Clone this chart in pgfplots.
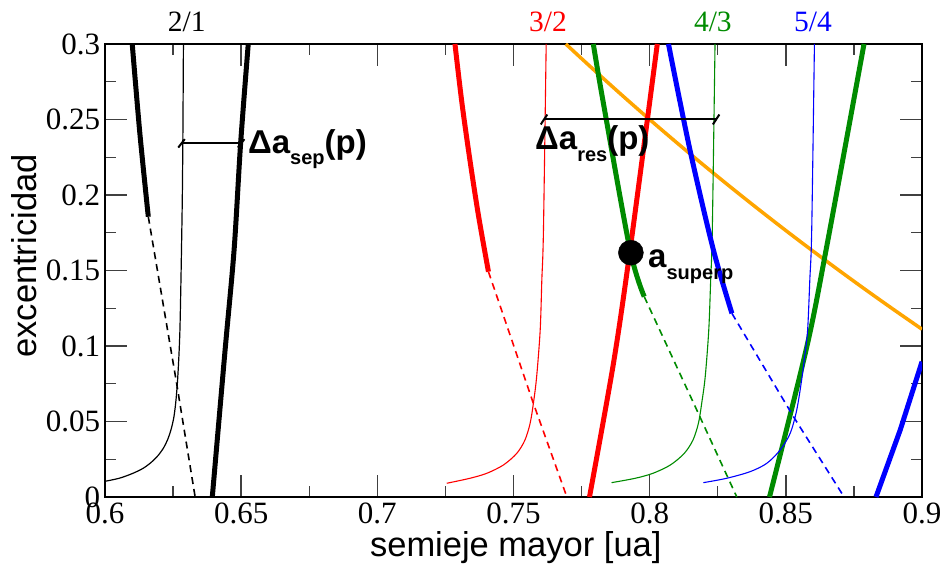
\documentclass[border=0pt]{standalone}
\usepackage{fontspec}
\setmainfont{Liberation Serif}
\setsansfont{Liberation Sans}
\usepackage{pgfplots}
\pgfplotsset{compat=1.18}
\definecolor{myred}{RGB}{255,0,0}
\definecolor{mygreen}{RGB}{0,139,0}
\definecolor{myblue}{RGB}{0,0,255}
\definecolor{myorange}{RGB}{255,165,0}
\newcommand{\subt}[1]{\raisebox{-0.36em}{\fontsize{20}{20}\selectfont\sffamily\bfseries #1}}
\begin{document}
\begin{tikzpicture}
\begin{axis}[
  width=817pt, height=453pt, scale only axis,
  xmin=0.6, xmax=0.9, ymin=0, ymax=0.3,
  xtick={0.6,0.65,0.7,0.75,0.8,0.85,0.9},
  ytick={0,0.05,0.1,0.15,0.2,0.25,0.3},
  minor x tick num=1, minor y tick num=1,
  scaled ticks=false,
  major tick length=22pt, minor tick length=11pt,
  every tick/.style={line width=1.4pt, color=black!75},
  axis line style={line width=1.6pt},
  tick label style={font=\rmfamily\fontsize{31}{32}\selectfont},
  /pgf/number format/assume math mode=true,
  /pgf/number format/fixed, /pgf/number format/precision=2,
  xticklabel style={yshift=-2.7pt},
  yticklabel style={xshift=-1.4pt},
  clip mode=individual,
]
% orange
\addplot[myorange, line width=3.5pt, smooth] coordinates {(0.7692,0.3000)(0.78,0.28205)(0.79,0.26582)(0.80,0.25)(0.81,0.23457)(0.82,0.21951)(0.83,0.20482)(0.84,0.19048)(0.85,0.17647)(0.86,0.16279)(0.87,0.14943)(0.88,0.13636)(0.89,0.12360)(0.90,0.11111)};
% 2/1 black
\addplot[black, line width=1.2pt, smooth] coordinates {(0.6000,0.0104)(0.6052,0.0124)(0.6100,0.0155)(0.6140,0.0190)(0.6170,0.0230)(0.6195,0.0275)(0.6215,0.0325)(0.6230,0.0380)(0.6243,0.0450)(0.6253,0.0530)(0.6260,0.0630)(0.6266,0.0760)(0.6271,0.0920)(0.6275,0.1100)(0.6278,0.1350)(0.6281,0.1650)(0.6284,0.2000)(0.6286,0.2400)(0.6288,0.3000)};
\addplot[black, line width=5pt, smooth] coordinates {(0.6100,0.3000)(0.6128,0.2408)(0.6159,0.1856)};
\addplot[black, line width=1.6pt, dash pattern=on 7pt off 5pt] coordinates {(0.6159,0.1856)(0.6263,0.0753)(0.6331,0)};
\addplot[black, line width=5pt, smooth] coordinates {(0.6394,0)(0.6441,0.0974)(0.6474,0.1636)(0.6498,0.2342)(0.6526,0.3000)};
% 3/2 red
\addplot[myred, line width=1.1pt, smooth] coordinates {(0.7255,0.0091)(0.7340,0.0124)(0.7402,0.0157)(0.7463,0.0212)(0.7512,0.0289)(0.7542,0.0377)(0.7561,0.0488)(0.7573,0.0620)(0.7585,0.0797)(0.7598,0.1106)(0.7604,0.1437)(0.7610,0.1768)(0.7620,0.3000)};
\addplot[myred, line width=5pt, smooth] coordinates {(0.7285,0.3000)(0.7310,0.2618)(0.7339,0.2243)(0.7371,0.1868)(0.7408,0.1492)};
\addplot[myred, line width=1.6pt, dash pattern=on 7pt off 5pt] coordinates {(0.7408,0.1492)(0.7573,0.0620)(0.7696,0)};
\addplot[myred, line width=5pt, smooth] coordinates {(0.7779,0)(0.7867,0.0885)(0.7928,0.1636)(0.8028,0.3000)};
% 4/3 green
\addplot[mygreen, line width=1.1pt, smooth] coordinates {(0.7860,0.0095)(0.7947,0.0124)(0.8012,0.0157)(0.8076,0.0212)(0.8127,0.0289)(0.8159,0.0377)(0.8179,0.0488)(0.8191,0.0620)(0.8204,0.0797)(0.8217,0.1106)(0.8224,0.1437)(0.8230,0.1768)(0.8240,0.3000)};
\addplot[mygreen, line width=5pt, smooth] coordinates {(0.7793,0.3000)(0.7828,0.2629)(0.7928,0.1636)(0.7980,0.1327)};
\addplot[mygreen, line width=1.6pt, dash pattern=on 7pt off 5pt] coordinates {(0.7980,0.1327)(0.8173,0.0576)(0.8320,0)};
\addplot[mygreen, line width=5pt, smooth] coordinates {(0.8440,0)(0.8577,0.0995)(0.8650,0.1658)(0.8787,0.3000)};
% 5/4 blue
\addplot[myblue, line width=1.1pt, smooth] coordinates {(0.8197,0.0095)(0.8283,0.0124)(0.8369,0.0168)(0.8430,0.0223)(0.8479,0.0311)(0.8516,0.0422)(0.8540,0.0576)(0.8558,0.0775)(0.8569,0.0929)(0.8580,0.1106)(0.8588,0.1437)(0.8595,0.1768)(0.8605,0.3000)};
\addplot[myblue, line width=5pt, smooth] coordinates {(0.8069,0.3000)(0.8148,0.2298)(0.8234,0.1636)(0.8302,0.1216)};
\addplot[myblue, line width=1.6pt, dash pattern=on 7pt off 5pt] coordinates {(0.8302,0.1216)(0.8528,0.0532)(0.8714,0)};
\addplot[myblue, line width=5pt] coordinates {(0.8831,0)(0.8920,0.0444)(0.9000,0.0896)};
% delta indicators
\addplot[black, line width=2pt] coordinates {(0.6281,0.2342)(0.6500,0.2342)};
\addplot[black, line width=2pt] coordinates {(0.6269,0.2314)(0.6293,0.2370)};
\addplot[black, line width=2pt] coordinates {(0.6488,0.2314)(0.6512,0.2370)};
\addplot[black, line width=2pt] coordinates {(0.7612,0.2500)(0.8244,0.2500)};
\addplot[black, line width=2pt] coordinates {(0.7600,0.2467)(0.7624,0.2533)};
\addplot[black, line width=2pt] coordinates {(0.8232,0.2467)(0.8256,0.2533)};
% superposition point
\addplot[only marks, mark=*, mark size=12.5pt, black] coordinates {(0.7931,0.1618)};
% texts
\node[anchor=base west, font=\sffamily\bfseries\fontsize{33}{34}\selectfont, inner sep=0pt] at (axis cs:0.6525,0.2278) {Δa\subt{sep}(p)};
\node[anchor=base west, font=\sffamily\bfseries\fontsize{33}{34}\selectfont, inner sep=0pt] at (axis cs:0.7579,0.2298) {Δa\subt{res}(p)};
\node[anchor=base west, font=\sffamily\bfseries\fontsize{33}{34}\selectfont, inner sep=0pt] at (axis cs:0.7994,0.1517) {a\subt{superp}};
\node[anchor=base, inner sep=0pt, font=\rmfamily\fontsize{29.5}{30}\selectfont] at ([yshift=12.3pt]axis cs:0.6300,0.3) {2/1};
\node[anchor=base, inner sep=0pt, text=myred, font=\rmfamily\fontsize{29.5}{30}\selectfont] at ([yshift=12.3pt]axis cs:0.7627,0.3) {3/2};
\node[anchor=base, inner sep=0pt, text=mygreen, font=\rmfamily\fontsize{29.5}{30}\selectfont] at ([yshift=12.3pt]axis cs:0.8232,0.3) {4/3};
\node[anchor=base, inner sep=0pt, text=myblue, font=\rmfamily\fontsize{29.5}{30}\selectfont] at ([yshift=12.3pt]axis cs:0.8600,0.3) {5/4};
\node[anchor=base, inner sep=0pt, font=\sffamily\fontsize{34.5}{35}\selectfont] at (axis description cs:0.5028,-0.1318) {semieje mayor [ua]};
\node[anchor=base, rotate=90, inner sep=0pt, font=\sffamily\fontsize{34.5}{35}\selectfont] at (axis description cs:-0.0836,0.532) {excentricidad};
\coordinate (SW) at (rel axis cs:0,0);
\coordinate (NE) at (rel axis cs:1,1);
\end{axis}
\pgfresetboundingbox
\path ([xshift=-105pt,yshift=-73pt]SW) rectangle ([xshift=24pt,yshift=44pt]NE);
\end{tikzpicture}
\end{document}
